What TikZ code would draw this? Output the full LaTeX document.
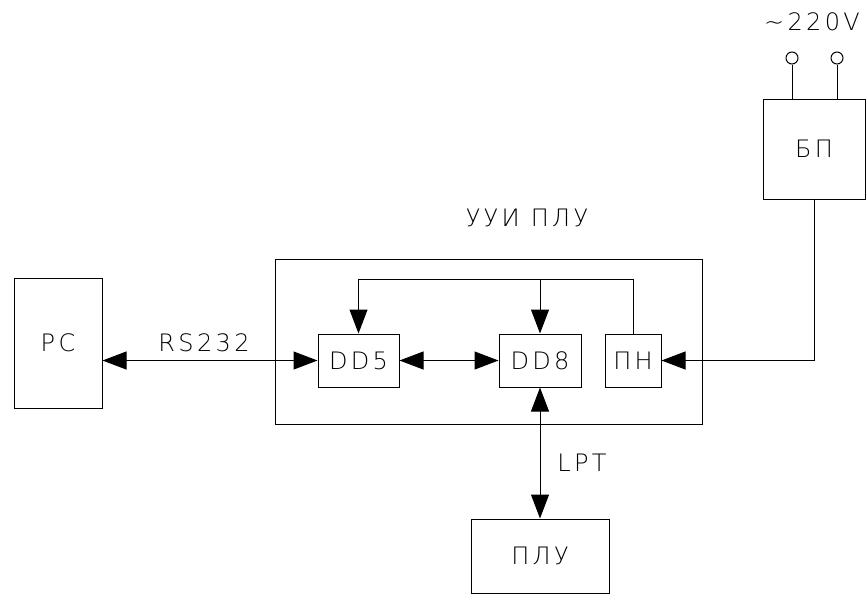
\documentclass[tikz,border=0pt]{standalone}
\usepackage{fontspec}
\setmainfont[LetterSpace=14]{DejaVu Sans ExtraLight}
\usetikzlibrary{arrows.meta}

\begin{document}
\begin{tikzpicture}[x=1pt, y=-1pt, line width=1pt,
    block/.style={draw, inner sep=0pt, font=\fontsize{24}{28}\selectfont},
    lbl/.style={inner sep=0pt, font=\fontsize{24}{28}\selectfont},
    pin/.style={draw, circle, inner sep=0pt, minimum size=12pt},
    bigtip/.style={-{Triangle[length=24pt,width=18pt]}},
    bothtips/.style={{Triangle[length=24pt,width=18pt]}-{Triangle[length=24pt,width=18pt]}}]
    \useasboundingbox (0,0) rectangle (866,595);
    \node[block, minimum width=88pt, minimum height=130pt] (pc) at (58,343) {PC};
    \node[draw, inner sep=0pt, minimum width=427pt, minimum height=165pt] (uui) at (488.5,341.5) {};
    \node[lbl] (uuilbl) at (527,218) {УУИ ПЛУ};
    \node[block, minimum width=81pt, minimum height=53pt] (dd5) at (358.5,360.5) {DD5};
    \node[block, minimum width=82pt, minimum height=53pt] (dd8) at (540,360.5) {DD8};
    \node[block, minimum width=56pt, minimum height=53pt] (pn) at (633,360.5) {ПН};
    \node[block, minimum width=102pt, minimum height=100pt] (bp) at (814,149) {БП};
    \node[block, minimum width=138pt, minimum height=74pt] (plu) at (540,556) {ПЛУ};
    \node[pin] (pina) at (792,58) {};
    \node[pin] (pinb) at (837,58) {};
    \node[lbl] (mains) at (812,22) {\textasciitilde220V};
    \node[lbl] (rs) at (204,343) {RS232};
    \node[lbl] (lpt) at (582,463) {LPT};
    \coordinate (bus) at (540,279);

    \draw (pina.south) -- (pina.south |- bp.north);
    \draw (pinb.south) -- (pinb.south |- bp.north);
    \draw[bothtips] (dd5.west -| pc.east) -- (dd5.west);
    \draw[bothtips] (dd5.east) -- (dd8.west);
    \draw[bothtips] (dd8.south) -- (plu.north);
    \draw (pn.north) |- (bus);
    \draw[bigtip] (bus) -| (dd5.north);
    \draw[bigtip] (bus) -- (dd8.north);
    \draw[bigtip] (bp.south) |- (pn.east);
\end{tikzpicture}
\end{document}
